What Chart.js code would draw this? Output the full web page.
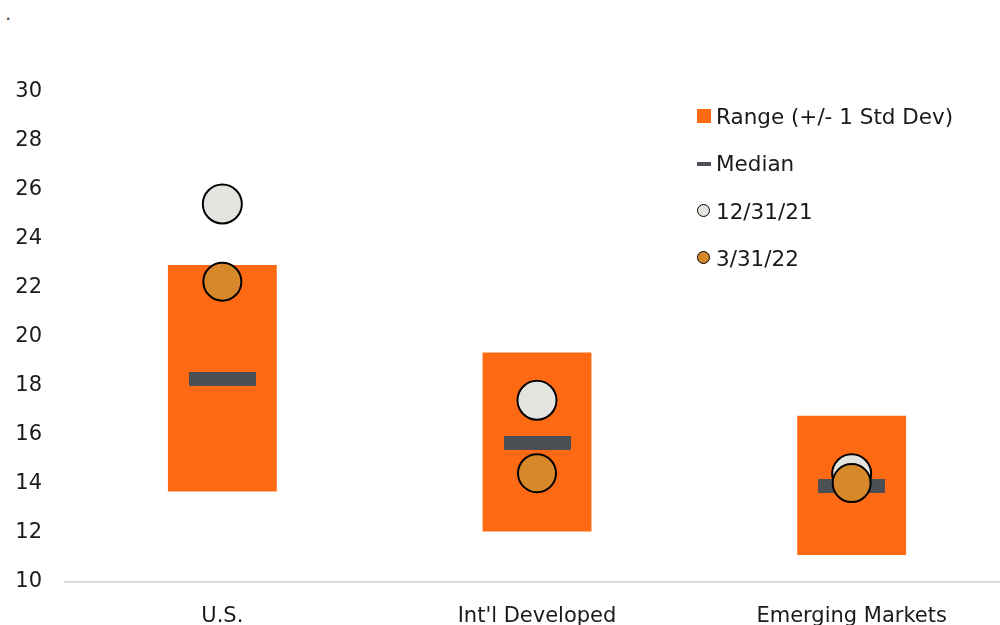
<!DOCTYPE html>
<html>
<head>
<meta charset="utf-8">
<script src="https://cdn.jsdelivr.net/npm/chart.js@4/dist/chart.umd.min.js"></script>
<style>
  html, body { margin: 0; padding: 0; background: #fff; overflow: hidden; }
  body { width: 1000px; height: 625px; position: relative; font-family: "DejaVu Sans", sans-serif; }
  #grafico { position: absolute; left: 0; top: 0; }
  #dot { position: absolute; left: 5px; top: 1px; font-size: 20px; color: #555; }
  #legend { position: absolute; left: 697px; top: 104px; font-size: 21.5px; color: #1a1a1a; }
  .item { position: relative; height: 47.3px; line-height: 25px; padding-left: 19px; white-space: nowrap; }
  .sym { position: absolute; left: 0; }
</style>
</head>
<body>
<div id="dot">.</div>
<canvas id="grafico" width="1010" height="640"></canvas>
<div id="legend"></div>
<script>
// categorias e valores (P/E)
const categorias = ["U.S.", "Int'l Developed", "Emerging Markets"];
const faixaMin = [13.69, 12.06, 11.10];
const faixaMax = [22.94, 19.37, 16.79];
const mediana = [18.29, 15.68, 13.93];
const dez21 = [25.43, 17.42, 14.42];
const mar22 = [22.26, 14.44, 14.04];
const ticksY = [10, 12, 14, 16, 18, 20, 22, 24, 26, 28, 30];

const LARANJA = "#FE6A14";
const CINZA = "#4C4F54";
const CLARO = "#E3E3DF";
const AMBAR = "#D6882A";

// traço da mediana como imagem de ponto
const traco = document.createElement("canvas");
traco.width = 67;
traco.height = 14;
const tctx = traco.getContext("2d");
tctx.fillStyle = CINZA;
tctx.fillRect(0, 0, 67, 14);

const faixas = faixaMin.map((v, i) => [v, faixaMax[i]]);

const fonte = { family: "'DejaVu Sans', sans-serif" };

const grafico = new Chart(document.getElementById("grafico"), {
    type: "bar",
    data: {
        labels: categorias,
        datasets: [
            {
                label: "Range (+/- 1 Std Dev)",
                data: faixas,
                backgroundColor: LARANJA,
                grouped: false,
                categoryPercentage: 1,
                barPercentage: 0.346,
                order: 4
            },
            {
                type: "line",
                label: "Median",
                data: mediana,
                showLine: false,
                pointStyle: traco,
                order: 3
            },
            {
                type: "line",
                label: "12/31/21",
                data: dez21,
                showLine: false,
                pointRadius: 19.5,
                pointHoverRadius: 19.5,
                pointBackgroundColor: CLARO,
                pointBorderColor: "#000",
                pointBorderWidth: 2,
                order: 2
            },
            {
                type: "line",
                label: "3/31/22",
                data: mar22,
                showLine: false,
                pointRadius: 19,
                pointHoverRadius: 19,
                pointBackgroundColor: AMBAR,
                pointBorderColor: "#000",
                pointBorderWidth: 2,
                order: 1
            }
        ]
    },
    options: {
        responsive: false,
        animation: false,
        events: [],
        layout: { autoPadding: false, padding: { top: 92, right: 1, left: 0, bottom: 0 } },
        plugins: {
            legend: { display: false },
            tooltip: { enabled: false }
        },
        scales: {
            x: {
                grid: { display: false },
                border: { display: true, color: "#D9D9D9", width: 2 },
                ticks: { color: "#1a1a1a", font: { ...fonte, size: 21 }, padding: 14, maxRotation: 0 },
                afterFit: (s) => { s.height = 58; }
            },
            y: {
                min: 10,
                max: 30,
                afterBuildTicks: (s) => { s.ticks = ticksY.map(v => ({ value: v })); },
                grid: { display: false, drawTicks: false },
                border: { display: false },
                ticks: { color: "#1a1a1a", font: { ...fonte, size: 21 }, padding: 23 },
                afterFit: (s) => { s.width = 65; }
            }
        }
    }
});

// legenda em HTML
const simbolos = [
    '<span class="sym" style="top:5px;width:14px;height:14px;background:' + LARANJA + '"></span>',
    '<span class="sym" style="top:11px;width:14px;height:4px;background:' + CINZA + '"></span>',
    '<span class="sym" style="top:5px;width:11px;height:11px;border:1.5px solid #000;border-radius:50%;background:' + CLARO + '"></span>',
    '<span class="sym" style="top:5px;width:11px;height:11px;border:1.5px solid #000;border-radius:50%;background:' + AMBAR + '"></span>'
];
const legenda = document.getElementById("legend");
grafico.data.datasets.forEach((ds, i) => {
    const div = document.createElement("div");
    div.className = "item";
    div.innerHTML = simbolos[i] + ds.label;
    legenda.appendChild(div);
});
</script>
</body>
</html>
